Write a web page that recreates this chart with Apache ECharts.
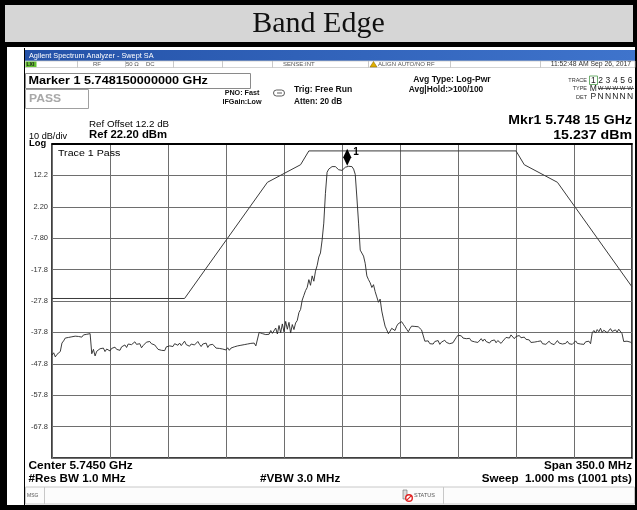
<!DOCTYPE html>
<html><head><meta charset="utf-8">
<script src="https://cdn.jsdelivr.net/npm/echarts@6/dist/echarts.min.js"></script>
<style>html,body{margin:0;padding:0;background:#fff;}#c{width:637px;height:510px;}</style>
</head><body><div id="c"></div>
<script>
// ---------- data ----------
const chartTitle = 'Band Edge';
const sweepStartMHz = 5570;   // Center 5.7450 GHz, Span 350 MHz
const sweepStepMHz = 1;
const sweepStopMHz = 5920;
const traceLevels = [
 -45.0,-44.3,-45.6,-44.8,-45.3,-43.9,-41.2,-40.5,-39.6,-40.1,
 -39.4,-39.9,-39.2,-39.6,-39.0,-39.5,-39.1,-38.8,-39.3,-38.6,
 -38.9,-38.4,-38.7,-38.2,-44.6,-43.2,-45.3,-43.8,-44.1,-43.0,
 -43.6,-42.8,-43.9,-43.1,-42.6,-43.7,-42.9,-43.4,-42.5,-43.2,
 -42.7,-43.5,-42.4,-42.9,-41.8,-42.6,-41.5,-40.9,-41.7,-41.2,
 -40.8,-41.6,-42.2,-41.4,-42.7,-42.0,-41.5,-40.9,-41.3,-40.7,
 -41.4,-41.0,-41.8,-42.5,-43.2,-42.6,-43.5,-42.9,-43.6,-42.4,
 -42.8,-42.1,-41.6,-42.3,-41.4,-40.8,-41.9,-41.2,-42.0,-41.5,
 -40.6,-41.7,-41.1,-42.2,-41.5,-40.9,-41.8,-41.3,-40.7,-41.6,
 -42.3,-41.5,-42.0,-41.2,-42.6,-41.8,-42.4,-41.6,-42.1,-42.8,
 -42.2,-42.9,-42.4,-43.1,-42.5,-43.4,-42.7,-43.5,-42.8,-43.2,
 -42.4,-42.9,-42.1,-42.6,-41.9,-42.5,-41.7,-42.3,-41.5,-42.0,
 -41.3,-41.9,-41.2,-42.1,-41.6,-37.8,-37.4,-38.2,-37.6,-38.5,
 -37.9,-38.4,-37.2,-38.1,-37.5,-36.4,-38.3,-35.6,-37.9,-35.1,
 -37.6,-34.3,-36.8,-34.6,-38.0,-35.3,-36.9,-34.8,-34.0,-31.5,
 -30.5,-27.5,-26.0,-24.5,-23.5,-21.0,-22.8,-19.8,-21.5,-18.3,
 -16.5,-13.8,-12.5,-8.4,-3.0,6.5,13.2,14.2,14.6,15.0,
 15.2,15.0,14.6,14.0,13.4,13.8,14.3,14.8,15.237,15.1,
 15.2,15.0,14.2,12.5,5.0,-3.0,-11.6,-12.2,-13.5,-15.8,
 -19.8,-21.0,-22.0,-23.5,-22.6,-24.8,-26.5,-28.2,-27.2,-31.0,
 -33.5,-35.8,-37.0,-38.2,-37.4,-36.5,-36.0,-37.2,-35.8,-35.0,
 -34.6,-34.4,-35.2,-36.0,-36.8,-37.6,-36.6,-35.8,-35.4,-35.9,
 -36.3,-36.0,-36.6,-37.0,-37.5,-40.6,-41.2,-40.5,-41.4,-40.8,
 -41.5,-40.7,-41.3,-40.4,-41.6,-40.9,-41.2,-40.3,-41.0,-40.6,
 -41.4,-40.8,-41.1,-40.2,-39.4,-38.7,-39.3,-38.9,-39.6,-39.1,
 -39.8,-40.3,-39.7,-40.5,-39.9,-40.8,-40.2,-41.0,-40.4,-39.8,
 -40.6,-39.9,-40.7,-40.1,-41.2,-40.5,-40.9,-40.2,-41.1,-40.4,
 -40.8,-41.3,-40.6,-40.0,-39.4,-38.9,-39.6,-38.6,-39.2,-39.8,
 -39.1,-39.7,-38.8,-39.5,-40.1,-39.3,-40.0,-40.6,-40.2,-41.0,
 -40.4,-40.9,-41.5,-40.7,-41.2,-40.5,-41.4,-40.8,-41.6,-41.0,
 -40.6,-41.3,-40.9,-41.7,-41.1,-40.4,-41.2,-40.7,-41.5,-40.9,
 -41.3,-40.6,-41.4,-40.8,-41.6,-41.1,-40.5,-41.3,-40.9,-41.5,
 -41.0,-41.6,-40.8,-41.2,-40.6,-41.4,-37.9,-37.2,-38.0,-36.9,
 -37.6,-36.5,-37.8,-37.1,-36.7,-37.9,-37.3,-36.6,-37.5,-38.1,
 -37.0,-37.7,-36.8,-37.4,-38.2,-40.7,-41.3,-40.6,-41.2,-40.9,
 -41.4
];
const limitFreqs  = [5570, 5650, 5700, 5720, 5725, 5850, 5855, 5875, 5920];
const limitLevels = [-27, -27, 10, 15.6, 20, 20, 15.6, 10, -23.3];
const markerFreq = 5748.15;
const markerLevel = 15.237;
const refLevel = 22.2;
const bottomLevel = -77.8;
const yTickValues = [12.2, 2.2, -7.8, -17.8, -27.8, -37.8, -47.8, -57.8, -67.8];
const yTickLabels = ['12.2', '2.20', '-7.80', '-17.8', '-27.8', '-37.8', '-47.8', '-57.8', '-67.8'];
const traceDigits = ['1','2','3','4','5','6'];
const typeRow = ['M','W','W','W','W','W'];
const detRow = ['P','N','N','N','N','N'];

// ---------- helpers ----------
const SANS = '"Liberation Sans", Arial, sans-serif';
function T(x, y, text, size, o) {
  o = o || {};
  return { type: 'text', x: x, y: y, scaleX: o.sx || 1, z: 50, silent: true,
    style: { text: text, fontSize: size, fontWeight: o.w || 'normal', fontFamily: o.ff || SANS,
      fill: o.c || '#000', textAlign: o.a || 'left', align: o.a || 'left',
      textVerticalAlign: 'middle', verticalAlign: 'middle' } };
}
function R(x, y, w, h, fill, stroke, lw, z, r) {
  return { type: 'rect', z: z == null ? -5 : z, silent: true,
    shape: { x: x, y: y, width: w, height: h, r: r || 0 },
    style: { fill: fill || 'none', stroke: stroke || 'none', lineWidth: lw || 1 } };
}
function L(x1, y1, x2, y2, c, lw, z) {
  return { type: 'line', z: z == null ? 40 : z, silent: true,
    shape: { x1: x1, y1: y1, x2: x2, y2: y2 }, style: { stroke: c, lineWidth: lw || 1 } };
}

const g = [];
// frame
g.push(R(0, 0, 637, 510, '#000', null, 1, -20));
g.push(R(5, 5, 628, 37, '#d6d6d6', null, 1, -19));
g.push(R(7, 47, 628, 458, '#fff', null, 1, -19));
g.push(T(318.5, 24, chartTitle, 30, { ff: '"Liberation Serif", "Times New Roman", serif', a: 'center', c: '#111' }));
// window border
g.push(L(24.5, 48, 24.5, 505, '#000', 1, 30));
// blue header
g.push({ type: 'rect', z: -10, silent: true, shape: { x: 25, y: 50, width: 610, height: 11 },
  style: { fill: new echarts.graphic.LinearGradient(0, 0, 1, 0, [{ offset: 0, color: '#2452a8' }, { offset: 1, color: '#3f74cc' }]) } });
g.push(T(29, 55.5, 'Agilent Spectrum Analyzer - Swept SA', 7.3, { c: '#fff' }));
// status row
g.push(R(25, 61, 610, 6.5, '#fff', '#c8c8c8', 0.8, -9));
g.push(R(25.5, 61.5, 11, 5.5, '#62c030', null, 1, -8));
g.push(T(26.5, 64.3, 'LXI', 5, { w: 'bold', c: '#222' }));
[77, 125, 173, 222, 272, 368, 450, 540].forEach(function (x) { g.push(L(x + 0.5, 61, x + 0.5, 67.5, '#bbb', 0.8, -7)); });
g.push(T(93, 64.3, 'RF', 6, { c: '#555' }));
g.push(T(126, 64.3, '50 \u03a9', 6, { c: '#555' }));
g.push(T(146, 64.3, 'DC', 6, { c: '#555' }));
g.push(T(283, 64.3, 'SENSE:INT', 6, { c: '#555' }));
g.push({ type: 'polygon', z: 45, silent: true, shape: { points: [[370, 67], [373.5, 61.5], [377, 67]] }, style: { fill: '#e0b000', stroke: '#806000', lineWidth: 0.5 } });
g.push(T(378, 64.3, 'ALIGN AUTO/NO RF', 6, { c: '#555' }));
g.push(T(631, 64.3, '11:52:48 AM Sep 26, 2017', 6.8, { c: '#333', a: 'right' }));
// marker box
g.push(R(25.5, 73.5, 225, 15, '#fff', '#8a8a8a', 1, -8));
g.push(T(28.5, 81, 'Marker 1 5.748150000000 GHz', 11.5, { w: 'bold', sx: 1.1 }));
// PASS box
g.push(R(25.5, 89.5, 63, 19, '#fff', '#a0a0a0', 1, -8));
g.push(T(29, 99, 'PASS', 11, { w: 'bold', sx: 1.1, c: '#a8a8a8' }));
// settings
g.push(T(242, 92.7, 'PNO: Fast', 7.2, { w: 'bold', a: 'center', c: '#111' }));
g.push(T(242, 101.7, 'IFGain:Low', 7.2, { w: 'bold', a: 'center', c: '#111' }));
g.push(R(273.5, 90, 11, 6, '#fff', '#333', 0.8, 45, 3));
g.push(L(277, 93, 282, 93, '#333', 0.8, 46));
g.push(T(294, 90, 'Trig: Free Run', 8.6, { w: 'bold', c: '#111' }));
g.push(T(294, 101.7, 'Atten: 20 dB', 8.2, { w: 'bold', c: '#111' }));
g.push(T(452, 80, 'Avg Type: Log-Pwr', 8.6, { w: 'bold', a: 'center', c: '#111' }));
g.push(T(446, 90, 'Avg|Hold:>100/100', 8.4, { w: 'bold', a: 'center', c: '#111' }));
// trace table
g.push(T(587, 80, 'TRACE', 5.5, { a: 'right', c: '#333' }));
g.push(T(587, 88.5, 'TYPE', 5.5, { a: 'right', c: '#333' }));
g.push(T(587, 97, 'DET', 5.5, { a: 'right', c: '#333' }));
g.push(R(589.5, 76, 8, 8.5, 'none', '#4a9a4a', 0.8, 45));
traceDigits.forEach(function (d, i) { g.push(T(593.3 + i * 7.34, 80.3, d, 8.5, { a: 'center', c: '#222' })); });
typeRow.forEach(function (d, i) { g.push(T(593.3 + i * 7.34, 88.5, d, i === 0 ? 8.5 : 6, { a: 'center', c: '#222' })); });
g.push(L(598, 88.5, 634, 88.5, '#333', 0.8, 51));
detRow.forEach(function (d, i) { g.push(T(593.3 + i * 7.34, 97, d, 8.5, { a: 'center', c: '#222' })); });
// marker readout
g.push(T(632, 120, 'Mkr1 5.748 15 GHz', 12.8, { w: 'bold', a: 'right', sx: 1.1 }));
g.push(T(632, 135, '15.237 dBm', 12.9, { w: 'bold', a: 'right', sx: 1.1 }));
// ref
g.push(T(89, 125, 'Ref Offset 12.2 dB', 8.9, { sx: 1.1 }));
g.push(T(89, 135.5, 'Ref 22.20 dBm', 10.3, { w: 'bold', sx: 1.1 }));
g.push(T(29, 137, '10 dB/div', 8.3, { sx: 1.1 }));
g.push(T(29, 144, 'Log', 8.5, { w: 'bold', sx: 1.1 }));
g.push(T(58, 153, 'Trace 1 Pass', 9.7, { sx: 1.1 }));
// plot top border
g.push(L(51.5, 144, 632.5, 144, '#000', 2, 40));
// bottom texts
g.push(T(28.5, 466, 'Center 5.7450 GHz', 10.8, { w: 'bold', sx: 1.1 }));
g.push(T(28.5, 479.3, '#Res BW 1.0 MHz', 10.6, { w: 'bold', sx: 1.1 }));
g.push(T(260, 479.3, '#VBW 3.0 MHz', 10.6, { w: 'bold', sx: 1.1 }));
g.push(T(632, 466, 'Span 350.0 MHz', 10.6, { w: 'bold', a: 'right', sx: 1.1 }));
g.push(T(632, 479.3, 'Sweep  1.000 ms (1001 pts)', 10.6, { w: 'bold', a: 'right', sx: 1.1 }));
// msg bar
g.push(R(25.5, 487, 609, 17, '#fcfcfc', '#c8c8c8', 1, -8));
g.push(L(44.5, 487, 44.5, 504, '#c8c8c8', 1, -7));
g.push(T(27, 495.5, 'MSG', 5, { c: '#555' }));
g.push(R(403, 490, 4, 9, '#ddd', '#666', 0.6, 45));
g.push({ type: 'circle', z: 46, silent: true, shape: { cx: 409, cy: 498, r: 3.3 }, style: { fill: '#fff', stroke: '#e02020', lineWidth: 1.4 } });
g.push(L(406.8, 500.2, 411.2, 495.8, '#e02020', 1.2, 47));
g.push(T(414, 495.5, 'STATUS', 5.5, { c: '#555' }));
g.push(L(443.5, 487, 443.5, 504, '#c8c8c8', 1, -7));

// ---------- chart ----------
const chart = echarts.init(document.getElementById('c'), null, { renderer: 'canvas' });
const traceData = traceLevels.map(function (v, i) { return [sweepStartMHz + i * sweepStepMHz, v]; });
const limitData = limitFreqs.map(function (f, i) { return [f, limitLevels[i]]; });
chart.setOption({
  animation: false,
  backgroundColor: '#fff',
  grid: { left: 52, top: 144, width: 580, height: 314, show: true, borderColor: '#000', borderWidth: 1.5, backgroundColor: 'transparent' },
  xAxis: {
    type: 'value', min: sweepStartMHz, max: sweepStopMHz, interval: 35,
    axisLabel: { show: false }, axisTick: { show: false }, axisLine: { show: false },
    splitLine: { show: true, lineStyle: { color: '#6e6e6e', width: 1 } }
  },
  yAxis: {
    type: 'value', min: bottomLevel, max: refLevel, interval: 10,
    axisTick: { show: false }, axisLine: { show: false },
    splitLine: { show: true, lineStyle: { color: '#6e6e6e', width: 1 } },
    axisLabel: {
      show: true, margin: 4, fontSize: 7.5, color: '#333', fontFamily: SANS,
      showMinLabel: false, showMaxLabel: false,
      formatter: function (v) {
        for (let i = 0; i < yTickValues.length; i++) {
          if (Math.abs(v - yTickValues[i]) < 0.01) return yTickLabels[i];
        }
        return '';
      }
    }
  },
  series: [
    { type: 'line', data: limitData, showSymbol: false, symbol: 'none', z: 3,
      lineStyle: { color: '#3a3a3a', width: 1 }, silent: true },
    { type: 'line', data: traceData, showSymbol: false, symbol: 'none', z: 4,
      lineStyle: { color: '#262626', width: 0.9 }, silent: true,
      markPoint: {
        silent: true, animation: false,
        data: [{ coord: [markerFreq, markerLevel], symbol: 'diamond', symbolSize: [8, 17], symbolOffset: [0, -8.5],
          itemStyle: { color: '#000' },
          label: { show: true, formatter: '1', position: [10, -2], fontSize: 10, fontWeight: 'bold', color: '#000', fontFamily: SANS } }]
      } }
  ],
  graphic: g
});
</script></body></html>
